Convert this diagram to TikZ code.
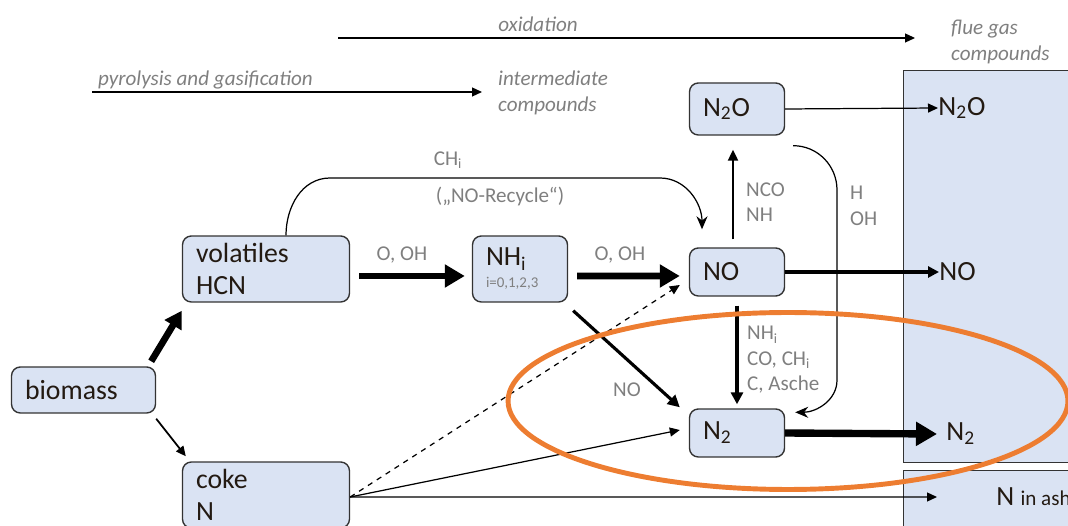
\documentclass[tikz,border=0pt]{standalone}
\usepackage{fontspec}
\setmainfont{Carlito}
\usepackage{xcolor}
\definecolor{boxFill}{HTML}{DAE3F3}
\definecolor{boxLine}{HTML}{333333}
\definecolor{nodeText}{HTML}{231A12}
\definecolor{lblGray}{HTML}{7F7F7F}
\definecolor{ringOrange}{HTML}{ED7D31}
\newcommand\mainsize{\fontsize{15.8}{18.5}\selectfont}
\newcommand\lblsize{\fontsize{12}{14.5}\selectfont}
\usetikzlibrary{arrows.meta}
\tikzset{
  nbox/.style={rectangle,draw=boxLine,fill=boxFill,line width=0.8pt,
    rounded corners=5pt,align=left,text width=#1,inner xsep=0.27cm,
    font=\mainsize,text=nodeText},
  nbox/.default=1.36cm,
  outbox/.style={rectangle,draw=boxLine,fill=boxFill,line width=0.7pt,inner sep=0pt},
  outlbl/.style={anchor=west,inner sep=0pt,font=\mainsize,text=nodeText},
  lbl/.style={font=\lblsize,text=lblGray,align=left},
  ilbl/.style={font=\lblsize\itshape,text=lblGray,align=left},
  flow/.style={-{Triangle[length=2mm,width=1.8mm]},line width=0.7pt},
  flowsm/.style={-{Triangle[length=2.2mm,width=2mm]},line width=1.2pt},
  flowmid/.style={-{Triangle[length=2.4mm,width=2.4mm]},line width=1.8pt},
  flowfat/.style={-{Triangle[length=4mm,width=4.4mm]},line width=3.8pt},
  curvearrow/.style={-{Stealth[length=2.6mm,width=2.2mm]},line width=0.7pt}
}
\begin{document}
\begin{tikzpicture}[x=0.02cm,y=-0.02cm]
  \useasboundingbox (0,0) rectangle (1068,526);

  \node[outbox,minimum width=4cm,minimum height=7.84cm,anchor=north west] (flue) at (903,70) {};
  \node[outbox,minimum width=4cm,minimum height=2cm,anchor=north west] (ash) at (903,470) {};

  \node[ilbl] (oxlbl) at (538,24) {oxidation};
  \coordinate (oxs) at (338,38);
  \node[ilbl,anchor=west] (flux) at (945,42) {flue gas\\compounds};
  \node[ilbl,anchor=west] (pyrlbl) at (92,80) {pyrolysis and gasification};
  \coordinate (pyrs) at (92,92);
  \node[ilbl,anchor=west] (inter) at (492,93) {intermediate\\compounds};

  \node[nbox=2.34cm,minimum height=0.92cm] (bio) at (83.5,390) {biomass};
  \node[nbox=2.8cm,minimum height=1.32cm] (vol) at (266,269) {volatiles\\HCN};
  \node[nbox=2.8cm,minimum height=1.32cm] (coke) at (266,495) {coke\\N};
  \node[nbox,minimum height=1.32cm] (nhi) at (520,269)
    {NH\textsubscript{i}\\[-6pt]{\fontsize{8.5}{10}\selectfont\color{lblGray}i=0,1,2,3}};
  \node[nbox,minimum height=1.04cm] (n2o) at (737,109) {N\textsubscript{2}O};
  \node[nbox,minimum height=0.96cm] (no) at (737,272) {NO};
  \node[nbox,minimum height=0.96cm] (n2) at (737,433) {N\textsubscript{2}};

  \node[outlbl] (outn2o) at (938,108) {N\textsubscript{2}O};
  \node[outlbl] (outno) at (939,272) {NO};
  \node[outlbl] (outn2) at (946,434) {N\textsubscript{2}};
  \node[outlbl] (outash) at (996,497) {N {\lblsize in ash}};

  \node[lbl] (l1) at (402,255) {O, OH};
  \node[lbl] (l2) at (620,255) {O, OH};
  \node[lbl] (l3) at (448,160) {CH\textsubscript{i}};
  \node[lbl] (l4) at (500,196) {(„NO-Recycle“)};
  \node[lbl,anchor=west] (l5) at (740,202) {NCO\\NH};
  \node[lbl,anchor=west] (l6) at (844,206) {H\\OH};
  \node[lbl,anchor=west] (l7) at (741,360) {NH\textsubscript{i}\\CO, CH\textsubscript{i}\\C, Asche};
  \node[lbl] (l8) at (627,390) {NO};

  \draw[flow] (oxs) -- ([xshift=-0.6cm]oxs -| flux.west);
  \draw[flow] (pyrs) -- ([xshift=-0.2cm]pyrs -| inter.west);

  \draw[flowfat,-{Triangle[length=3.4mm,width=3.8mm]}] ([xshift=-0.1cm,yshift=0.1cm]bio.north east) -- ([yshift=-0.16cm]vol.south west);
  \draw[flow,line width=1pt] ([yshift=-0.1cm]bio.south east) -- ([xshift=0.08cm,yshift=0.1cm]coke.north west);
  \draw[flowfat] ([xshift=0.18cm,yshift=-0.14cm]vol.east) -- ([xshift=-0.14cm,yshift=-0.14cm]nhi.west);
  \draw[flowfat] ([xshift=0.18cm,yshift=-0.14cm]nhi.east) -- ([xshift=-0.18cm,yshift=-0.08cm]no.west);
  \draw[flowmid] ([xshift=0.1cm,yshift=-0.16cm]nhi.south east) -- ([xshift=-0.18cm,yshift=0.02cm]n2.north west);
  \draw[flowsm] ([xshift=-0.08cm,yshift=0.16cm]no.north) -- ([xshift=-0.08cm,yshift=-0.28cm]n2o.south);
  \draw[flowmid] ([yshift=-0.18cm]no.south) -- ([yshift=0.08cm]n2.north);
  \draw[flow,dashed] ([yshift=-0.04cm]coke.east) -- ([xshift=-0.18cm,yshift=-0.26cm]no.west);
  \draw[flow] ([yshift=-0.04cm]coke.east) -- ([xshift=-0.18cm,yshift=0.06cm]n2.west);
  \draw[flow] ([yshift=-0.04cm]coke.east) -- ([xshift=-1.18cm]outash.west);

  \draw[curvearrow] ([xshift=0.4cm]vol.north) to[out=90,in=180] (330,178) -- (660,178)
    to[out=0,in=90] ([xshift=-0.7cm,yshift=0.36cm]no.north);
  \draw[curvearrow] ([xshift=0.16cm,yshift=-0.2cm]n2o.south east) to[out=0,in=90] (837,190)
    -- (837,380) to[out=-90,in=0] ([xshift=0.2cm,yshift=-0.08cm]n2.north east);

  \draw[flow] (n2o.east) -- (outn2o.west);
  \draw[flowmid,-{Triangle[length=2.2mm,width=2.2mm]}] (no.east) -- (outno.west);
  \draw[flowfat,-{Triangle[length=4.2mm,width=4.6mm]},line width=4.2pt] (n2.east) -- ([xshift=-0.18cm]outn2.west);

  \draw[ringOrange,line width=2.8pt] (788,401) ellipse [x radius=5.6cm,y radius=1.77cm];
\end{tikzpicture}
\end{document}
